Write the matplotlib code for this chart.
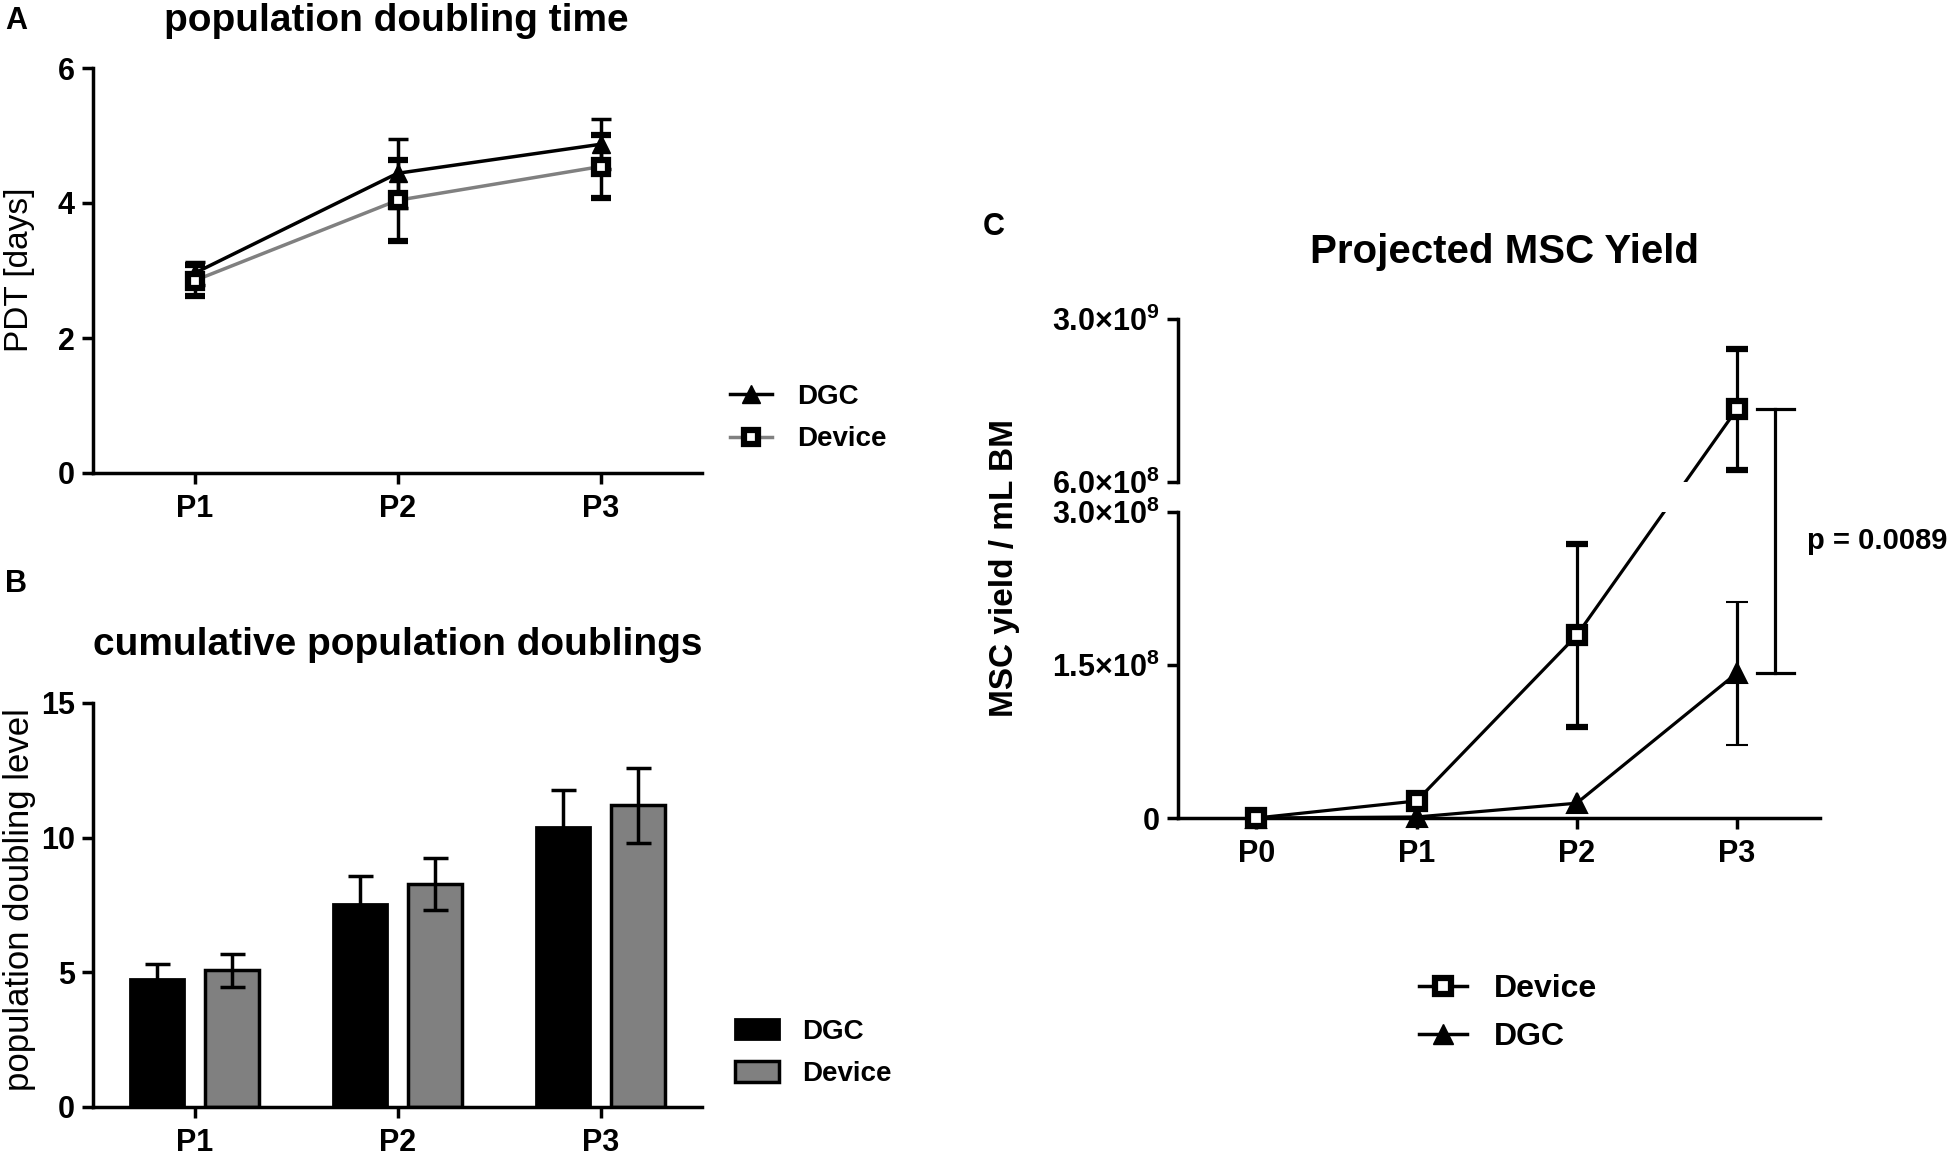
import math
import numpy as np
import matplotlib
matplotlib.use("Agg")
import matplotlib.pyplot as plt
from matplotlib.lines import Line2D
from matplotlib.patches import Patch

plt.rcParams['font.family'] = ['Liberation Sans', 'DejaVu Sans']
plt.rcParams['mathtext.fontset'] = 'custom'
plt.rcParams['mathtext.rm'] = 'Liberation Sans:bold'
plt.rcParams['mathtext.bf'] = 'Liberation Sans:bold'
plt.rcParams['mathtext.it'] = 'Liberation Sans:italic:bold'
plt.rcParams['axes.linewidth'] = 2.5

# ---------------- data ----------------
passages_ab = ['P1', 'P2', 'P3']
series_names = ['DGC', 'Device']

pdt_dgc = [2.96, 4.44, 4.87]
pdt_dgc_err = [0.17, 0.51, 0.37]
pdt_device = [2.85, 4.04, 4.54]
pdt_device_err = [0.23, 0.60, 0.47]
yticks_a = [0, 2, 4, 6]

cpd_dgc = [4.76, 7.54, 10.39]
cpd_dgc_err = [0.56, 1.02, 1.38]
cpd_device = [5.07, 8.28, 11.20]
cpd_device_err = [0.60, 0.95, 1.40]
yticks_b = [0, 5, 10, 15]

passages_c = ['P0', 'P1', 'P2', 'P3']
yield_device = [0.0, 1.67e7, 1.79e8, 1.67e9]
yield_device_err = [0.0, 0.0, 0.90e8, 0.89e9]
yield_dgc = [0.0, 1.0e6, 1.45e7, 1.42e8]
yield_dgc_err = [0.0, 0.0, 0.0, 0.70e8]
yticks_c_low = [0.0, 1.5e8, 3.0e8]
yticks_c_high = [6.0e8, 3.0e9]
p_value_text = 'p = 0.0089'

GRAY = '#808080'

# ---------------- figure ----------------
W, H = 1955, 1154
fig = plt.figure(figsize=(W / 100, H / 100), dpi=100)


def rect(l, t, r, b):
    return [l / W, 1 - b / H, (r - l) / W, (b - t) / H]


def sci_label(v):
    if v == 0:
        return '0'
    e = int(math.floor(math.log10(v)))
    m = v / 10 ** e
    return f'{m:.1f}\u00d710$^{{{e}}}$'


def base_style(ax, fs=22):
    ax.spines['top'].set_visible(False)
    ax.spines['right'].set_visible(False)
    ax.tick_params(axis='both', direction='out', length=8, width=2.5, labelsize=fs)
    ax.tick_params(axis='x', pad=7)
    ax.tick_params(axis='y', pad=5)


# ---------- Panel A ----------
axA = fig.add_axes(rect(93, 68, 702, 473))
xa = np.arange(len(passages_ab))
axA.errorbar(xa, pdt_dgc, yerr=pdt_dgc_err, color='black', lw=2.5, marker='^',
             ms=13, mfc='black', mec='black', capsize=7, capthick=2.5,
             elinewidth=2.5, zorder=3, clip_on=False)
axA.errorbar(xa, pdt_device, yerr=pdt_device_err, color=GRAY, ecolor='black', lw=2.5,
             marker='s', ms=10, mfc='white', mec='black', mew=4.5, capsize=7,
             capthick=2.5, elinewidth=2.5, zorder=4, clip_on=False)
axA.set_xlim(-0.5, 2.5)
axA.set_ylim(0, 6)
base_style(axA)
axA.set_xticks(xa, passages_ab, fontweight='bold')
axA.set_yticks(yticks_a, [str(v) for v in yticks_a], fontweight='bold')
axA.set_ylabel('PDT [days]', fontsize=24)
axA.yaxis.set_label_coords(35 / W, 1 - 270 / H, transform=fig.transFigure)
fig.text(396 / W, 1 - 21 / H, 'population doubling time', ha='center', va='center',
         fontsize=28, fontweight='bold')
fig.text(5 / W, 1 - 21 / H, 'A', ha='left', va='center', fontsize=22, fontweight='bold')
hA = [Line2D([], [], color='black', lw=2.5, marker='^', ms=13, mfc='black', mec='black'),
      Line2D([], [], color=GRAY, lw=2.5, marker='s', ms=10, mfc='white', mec='black', mew=4.5)]
axA.legend(hA, series_names, loc='center left', bbox_to_anchor=(730 / W, 1 - 418 / H),
           bbox_transform=fig.transFigure, frameon=False, borderpad=0, borderaxespad=0,
           handlelength=1.5, handletextpad=0.9, labelspacing=0.6,
           prop={'size': 20, 'weight': 'bold'})

# ---------- Panel B ----------
axB = fig.add_axes(rect(93, 703, 702, 1107))
bw, off = 0.27, 0.185
axB.bar(xa - off, cpd_dgc, bw, color='black', edgecolor='black', lw=2, zorder=2)
axB.errorbar(xa - off, cpd_dgc, yerr=cpd_dgc_err, fmt='none', ecolor='black',
             elinewidth=2.5, capsize=9, capthick=2.5, zorder=3)
axB.bar(xa + off, cpd_device, bw, color=GRAY, edgecolor='black', lw=2.5, zorder=2)
axB.errorbar(xa + off, cpd_device, yerr=cpd_device_err, fmt='none', ecolor='black',
             elinewidth=2.5, capsize=9, capthick=2.5, zorder=3)
axB.set_xlim(-0.5, 2.5)
axB.set_ylim(0, 15)
base_style(axB)
axB.set_xticks(xa, passages_ab, fontweight='bold')
axB.set_yticks(yticks_b, [str(v) for v in yticks_b], fontweight='bold')
axB.set_ylabel('population doubling level', fontsize=25)
axB.yaxis.set_label_coords(36 / W, 1 - 900 / H, transform=fig.transFigure)
fig.text(398 / W, 1 - 645 / H, 'cumulative population doublings', ha='center',
         va='center', fontsize=28, fontweight='bold')
fig.text(5 / W, 1 - 584 / H, 'B', ha='left', va='center', fontsize=22, fontweight='bold')
hB = [Patch(facecolor='black', edgecolor='black', lw=2),
      Patch(facecolor=GRAY, edgecolor='black', lw=2.5)]
axB.legend(hB, series_names, loc='center left', bbox_to_anchor=(735 / W, 1 - 1053 / H),
           bbox_transform=fig.transFigure, frameon=False, borderpad=0, borderaxespad=0,
           handlelength=1.6, handleheight=0.75, handletextpad=0.8, labelspacing=0.6,
           prop={'size': 20, 'weight': 'bold'})

# ---------- Panel C (broken y axis) ----------
axCu = fig.add_axes(rect(1178, 319, 1820, 482))
axCl = fig.add_axes(rect(1178, 512, 1820, 818))
xc = np.arange(len(passages_c))
for ax in (axCu, axCl):
    ax.set_xlim(-0.49, 3.52)
axCl.set_ylim(0, 3.0e8)
axCu.set_ylim(6.0e8, 3.0e9)
base_style(axCl, fs=22)
base_style(axCu, fs=22)
axCu.spines['bottom'].set_visible(False)
axCu.tick_params(axis='x', bottom=False, labelbottom=False)
axCl.set_xticks(xc, passages_c, fontweight='bold')
axCl.set_yticks(yticks_c_low, [sci_label(v) for v in yticks_c_low], fontweight='bold')
axCu.set_yticks(yticks_c_high, [sci_label(v) for v in yticks_c_high], fontweight='bold')
# break marks: inward ticks at the break
axCl.set_yticks([yticks_c_low[-1]], minor=True)
axCu.set_yticks([yticks_c_high[0]], minor=True)
for ax in (axCl, axCu):
    ax.tick_params(axis='y', which='minor', direction='in', length=8, width=2.5)

low_top = axCl.get_ylim()[1]


def which_ax(v):
    return axCl if v <= low_top else axCu


def to_ax(src, dst, x, y):
    d = src.transData.transform((x, y))
    return dst.transData.inverted().transform(d)


def draw_series(vals, errs, marker, ms, mfc, mew):
    # line segments (clipped at the break)
    for i in range(len(vals) - 1):
        a0, a1 = which_ax(vals[i]), which_ax(vals[i + 1])
        if a0 is a1:
            a0.plot([xc[i], xc[i + 1]], [vals[i], vals[i + 1]], color='black', lw=2.3,
                    zorder=2, clip_on=False)
        else:
            for tgt in (a0, a1):
                p0 = to_ax(which_ax(vals[i]), tgt, xc[i], vals[i])
                p1 = to_ax(which_ax(vals[i + 1]), tgt, xc[i + 1], vals[i + 1])
                tgt.plot([p0[0], p1[0]], [p0[1], p1[1]], color='black', lw=2.3,
                         zorder=2, clip_on=True)
    # markers & error bars
    for i, v in enumerate(vals):
        ax = which_ax(v)
        ax.errorbar([xc[i]], [v], yerr=[errs[i]] if errs[i] > 0 else None,
                    fmt=marker, ms=ms, mfc=mfc, mec='black', mew=mew, color='black',
                    ecolor='black', elinewidth=2.3, capsize=8, capthick=2.3,
                    zorder=4, clip_on=False)


draw_series(yield_dgc, yield_dgc_err, '^', 15, 'black', 1.5)
draw_series(yield_device, yield_device_err, 's', 11, 'white', 4.5)

# significance bracket between P3 means
inv = fig.transFigure.inverted()
bx, cap_l, cap_r = 3.24, 3.125, 3.356
top_d = which_ax(yield_device[3]).transData.transform((bx, yield_device[3]))
bot_d = which_ax(yield_dgc[3]).transData.transform((bx, yield_dgc[3]))
cl_x = axCl.transData.transform((cap_l, 0))[0]
cr_x = axCl.transData.transform((cap_r, 0))[0]
for (xs, ys) in [((top_d[0], bot_d[0]), (top_d[1], bot_d[1])),
                 ((cl_x, cr_x), (top_d[1], top_d[1])),
                 ((cl_x, cr_x), (bot_d[1], bot_d[1]))]:
    pts = inv.transform(np.column_stack([xs, ys]))
    fig.add_artist(Line2D(pts[:, 0], pts[:, 1], color='black', lw=2.3,
                          transform=fig.transFigure))
txt_x = axCl.transData.transform((3.44, 0))[0]
txt_pt = inv.transform((txt_x, (top_d[1] + bot_d[1]) / 2))
fig.text(txt_pt[0], txt_pt[1], p_value_text, ha='left', va='center', fontsize=21,
         fontweight='bold')

axCl.set_ylabel('MSC yield / mL BM', fontsize=24, fontweight='bold')
axCl.yaxis.set_label_coords(1020 / W, 1 - 568 / H, transform=fig.transFigure)
fig.text(1505 / W, 1 - 252 / H, 'Projected MSC Yield', ha='center', va='center',
         fontsize=29, fontweight='bold')
fig.text(994 / W, 1 - 227 / H, 'C', ha='center', va='center', fontsize=22,
         fontweight='bold')
hC = [Line2D([], [], color='black', lw=2.5, marker='s', ms=11, mfc='white', mec='black', mew=4.5),
      Line2D([], [], color='black', lw=2.5, marker='^', ms=15, mfc='black', mec='black')]
axCl.legend(hC, ['Device', 'DGC'], loc='center left',
            bbox_to_anchor=(1419 / W, 1 - 1013 / H), bbox_transform=fig.transFigure,
            frameon=False, borderpad=0, borderaxespad=0, handlelength=1.5,
            handletextpad=0.85, labelspacing=0.55, prop={'size': 23, 'weight': 'bold'})

fig.savefig('out.png', dpi=100, facecolor='white')
